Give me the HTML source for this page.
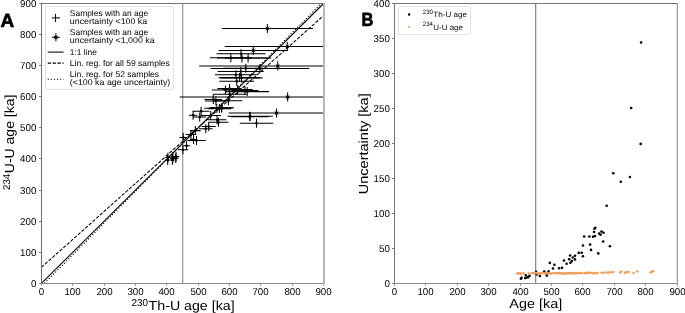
<!DOCTYPE html><html><head><meta charset="utf-8"><style>html,body{margin:0;padding:0;background:#fff;}svg{display:block;font-family:"Liberation Sans", sans-serif;will-change:transform;text-rendering:geometricPrecision;}</style></head><body>
<svg width="685" height="313" viewBox="0 0 685 313">
<rect width="685" height="313" fill="#fff"/>
<defs><clipPath id="cA"><rect x="41.4" y="3.48" width="282.27000000000004" height="279.91999999999996"/></clipPath><clipPath id="cB"><rect x="394.4" y="3.48" width="282.80000000000007" height="279.91999999999996"/></clipPath></defs>
<line x1="182.75" y1="3.48" x2="182.75" y2="283.4" stroke="#808080" stroke-width="1.0"/>
<g clip-path="url(#cA)" stroke="#000" stroke-width="1.05" fill="none">
<path d="M179.67 97.00H395.60M287.64 92.50V101.50"/>
<path d="M199.15 66.00H356.37M277.76 61.50V70.50"/>
<path d="M224.72 46.50H349.76M287.24 42.00V51.00"/>
<path d="M210.50 68.50H309.28M259.89 64.00V73.00"/>
<path d="M228.77 113.00H324.14M276.46 108.50V117.50"/>
<path d="M221.80 28.50H312.96M267.38 24.00V33.00"/>
<path d="M218.52 50.50H288.08M253.30 46.00V55.00"/>
<path d="M216.55 53.80H265.50M241.03 49.30V58.30"/>
<path d="M217.00 57.90H266.84M241.92 53.40V62.40"/>
<path d="M217.69 71.50H263.76M240.73 67.00V76.00"/>
<path d="M209.82 57.70H251.86M230.84 53.20V62.20"/>
<path d="M214.92 74.70H256.95M235.93 70.20V79.20"/>
<path d="M218.74 77.60H260.51M239.63 73.10V82.10"/>
<path d="M220.28 77.90H262.77M241.52 73.40V82.40"/>
<path d="M223.50 68.30H268.14M245.82 63.80V72.80"/>
<path d="M225.43 91.60H268.99M247.21 87.10V96.10"/>
<path d="M224.90 57.90H271.33M248.11 53.40V62.40"/>
<path d="M227.43 116.30H272.79M250.11 111.80V120.80"/>
<path d="M230.93 116.60H268.49M249.71 112.10V121.10"/>
<path d="M239.82 123.20H273.17M256.50 118.70V127.70"/>
<path d="M212.66 94.20H246.63M229.65 89.70V98.70"/>
<path d="M219.34 81.20H254.12M236.73 76.70V85.70"/>
<path d="M222.62 89.50H252.65M237.63 85.00V94.00"/>
<path d="M231.47 90.60H258.36M244.92 86.10V95.10"/>
<path d="M211.79 90.00H239.12M225.45 85.50V94.50"/>
<path d="M214.59 100.80H242.11M228.35 96.30V105.30"/>
<path d="M217.40 88.60H241.69M229.55 84.10V93.10"/>
<path d="M204.27 108.30H229.27M216.77 103.80V112.80"/>
<path d="M209.29 107.80H234.03M221.66 103.30V112.30"/>
<path d="M207.86 108.60H231.07M219.47 104.10V113.10"/>
<path d="M205.03 100.90H226.72M215.87 96.40V105.40"/>
<path d="M210.91 108.00H232.42M221.66 103.50V112.50"/>
<path d="M208.47 122.30H228.46M218.47 117.80V126.80"/>
<path d="M207.79 119.80H226.35M217.07 115.30V124.30"/>
<path d="M200.42 115.50H220.95M210.68 111.00V120.00"/>
<path d="M204.45 99.50H222.11M213.28 95.00V104.00"/>
<path d="M187.32 140.50H205.70M196.51 136.00V145.00"/>
<path d="M192.76 111.20H209.44M201.10 106.70V115.70"/>
<path d="M193.02 117.00H206.38M199.70 112.50V121.50"/>
<path d="M198.98 128.70H212.60M205.79 124.20V133.20"/>
<path d="M201.65 126.50H215.72M208.69 122.00V131.00"/>
<path d="M189.93 130.60H200.69M195.31 126.10V135.10"/>
<path d="M188.81 115.30H197.42M193.12 110.80V119.80"/>
<path d="M177.78 149.80H188.09M182.93 145.30V154.30"/>
<path d="M179.24 137.50H187.22M183.23 133.00V142.00"/>
<path d="M183.17 145.70H189.89M186.53 141.20V150.20"/>
<path d="M185.63 134.50H196.21M190.92 130.00V139.00"/>
<path d="M190.02 139.50H197.01M193.51 135.00V144.00"/>
<path d="M165.59 160.10H169.81M167.70 155.30V164.90"/>
<path d="M165.39 157.50H170.41M167.90 152.70V162.30"/>
<path d="M170.02 160.00H174.78M172.40 155.20V164.80"/>
<path d="M168.92 157.00H176.28M172.60 152.20V161.80"/>
<path d="M170.11 158.50H175.49M172.80 153.70V163.30"/>
<path d="M172.98 158.30H178.62M175.80 153.50V163.10"/>
<path d="M172.59 156.60H179.41M176.00 151.80V161.40"/>
</g>
<g clip-path="url(#cA)">
<path d="M285.54 94.90L289.74 99.10M285.54 99.10L289.74 94.90" stroke="#000" stroke-width="0.6" opacity="0.75"/>
<circle cx="287.64" cy="97.00" r="1.6" fill="#000"/>
<path d="M275.66 63.90L279.86 68.10M275.66 68.10L279.86 63.90" stroke="#000" stroke-width="0.6" opacity="0.75"/>
<circle cx="277.76" cy="66.00" r="1.6" fill="#000"/>
<path d="M285.14 44.40L289.34 48.60M285.14 48.60L289.34 44.40" stroke="#000" stroke-width="0.6" opacity="0.75"/>
<circle cx="287.24" cy="46.50" r="1.6" fill="#000"/>
<path d="M257.79 66.40L261.99 70.60M257.79 70.60L261.99 66.40" stroke="#000" stroke-width="0.6" opacity="0.75"/>
<circle cx="259.89" cy="68.50" r="1.6" fill="#000"/>
<path d="M274.36 110.90L278.56 115.10M274.36 115.10L278.56 110.90" stroke="#000" stroke-width="0.6" opacity="0.75"/>
<circle cx="276.46" cy="113.00" r="1.6" fill="#000"/>
<path d="M265.28 26.40L269.48 30.60M265.28 30.60L269.48 26.40" stroke="#000" stroke-width="0.6" opacity="0.75"/>
<circle cx="267.38" cy="28.50" r="1.6" fill="#000"/>
<path d="M251.20 48.40L255.40 52.60M251.20 52.60L255.40 48.40" stroke="#000" stroke-width="0.6" opacity="0.75"/>
<circle cx="253.30" cy="50.50" r="1.6" fill="#000"/>
<circle cx="241.03" cy="53.80" r="1.3" fill="#000"/>
<circle cx="241.92" cy="57.90" r="1.3" fill="#000"/>
<circle cx="240.73" cy="71.50" r="1.3" fill="#000"/>
<circle cx="230.84" cy="57.70" r="1.3" fill="#000"/>
<circle cx="235.93" cy="74.70" r="1.3" fill="#000"/>
<circle cx="239.63" cy="77.60" r="1.3" fill="#000"/>
<circle cx="241.52" cy="77.90" r="1.3" fill="#000"/>
<circle cx="245.82" cy="68.30" r="1.3" fill="#000"/>
<circle cx="247.21" cy="91.60" r="1.3" fill="#000"/>
<circle cx="248.11" cy="57.90" r="1.3" fill="#000"/>
<circle cx="250.11" cy="116.30" r="1.3" fill="#000"/>
<circle cx="249.71" cy="116.60" r="1.3" fill="#000"/>
<circle cx="256.50" cy="123.20" r="1.3" fill="#000"/>
<circle cx="229.65" cy="94.20" r="1.3" fill="#000"/>
<circle cx="236.73" cy="81.20" r="1.3" fill="#000"/>
<circle cx="237.63" cy="89.50" r="1.3" fill="#000"/>
<circle cx="244.92" cy="90.60" r="1.3" fill="#000"/>
<circle cx="225.45" cy="90.00" r="1.3" fill="#000"/>
<circle cx="228.35" cy="100.80" r="1.3" fill="#000"/>
<circle cx="229.55" cy="88.60" r="1.3" fill="#000"/>
<circle cx="216.77" cy="108.30" r="1.3" fill="#000"/>
<circle cx="221.66" cy="107.80" r="1.3" fill="#000"/>
<circle cx="219.47" cy="108.60" r="1.3" fill="#000"/>
<circle cx="215.87" cy="100.90" r="1.3" fill="#000"/>
<circle cx="221.66" cy="108.00" r="1.3" fill="#000"/>
<circle cx="218.47" cy="122.30" r="1.3" fill="#000"/>
<circle cx="217.07" cy="119.80" r="1.3" fill="#000"/>
<circle cx="210.68" cy="115.50" r="1.3" fill="#000"/>
<circle cx="213.28" cy="99.50" r="1.3" fill="#000"/>
<circle cx="196.51" cy="140.50" r="1.3" fill="#000"/>
<circle cx="201.10" cy="111.20" r="1.3" fill="#000"/>
<circle cx="199.70" cy="117.00" r="1.3" fill="#000"/>
<circle cx="205.79" cy="128.70" r="1.3" fill="#000"/>
<circle cx="208.69" cy="126.50" r="1.3" fill="#000"/>
<circle cx="195.31" cy="130.60" r="1.3" fill="#000"/>
<circle cx="193.12" cy="115.30" r="1.3" fill="#000"/>
<circle cx="182.93" cy="149.80" r="1.3" fill="#000"/>
<circle cx="183.23" cy="137.50" r="1.3" fill="#000"/>
<circle cx="186.53" cy="145.70" r="1.3" fill="#000"/>
<circle cx="190.92" cy="134.50" r="1.3" fill="#000"/>
<circle cx="193.51" cy="139.50" r="1.3" fill="#000"/>
<circle cx="167.70" cy="160.10" r="1.3" fill="#000"/>
<circle cx="167.90" cy="157.50" r="1.3" fill="#000"/>
<circle cx="172.40" cy="160.00" r="1.3" fill="#000"/>
<circle cx="172.60" cy="157.00" r="1.3" fill="#000"/>
<circle cx="172.80" cy="158.50" r="1.3" fill="#000"/>
<circle cx="175.80" cy="158.30" r="1.3" fill="#000"/>
<circle cx="176.00" cy="156.60" r="1.3" fill="#000"/>
</g>
<g clip-path="url(#cA)" fill="none" stroke="#000" stroke-width="1.05">
<line x1="41.4" y1="283.4" x2="323.67" y2="3.48"/>
<line x1="41.4" y1="267.4" x2="323.67" y2="15.5" stroke-dasharray="3.3 1.6"/>
<line x1="44.4" y1="283.4" x2="321.2" y2="3.48" stroke-dasharray="1.2 1.9"/>
</g>
<g shape-rendering="crispEdges"><rect x="41" y="3" width="1" height="281" fill="#6e6e6e"/><rect x="41" y="3" width="283" height="1" fill="#747474"/><rect x="41" y="283" width="284" height="1" fill="#8a8a8a"/><rect x="323" y="3" width="2" height="281" fill="#b8b8b8"/></g>
<g shape-rendering="crispEdges"><rect x="41" y="284" width="1" height="2" fill="#9a9a9a"/><rect x="39" y="283" width="2" height="1" fill="#7a7a7a"/><rect x="72" y="284" width="1" height="2" fill="#9a9a9a"/><rect x="39" y="252" width="2" height="1" fill="#7a7a7a"/><rect x="104" y="284" width="1" height="2" fill="#9a9a9a"/><rect x="39" y="221" width="2" height="1" fill="#7a7a7a"/><rect x="135" y="284" width="1" height="2" fill="#9a9a9a"/><rect x="39" y="190" width="2" height="1" fill="#7a7a7a"/><rect x="166" y="284" width="1" height="2" fill="#9a9a9a"/><rect x="39" y="158" width="2" height="1" fill="#7a7a7a"/><rect x="198" y="284" width="1" height="2" fill="#9a9a9a"/><rect x="39" y="127" width="2" height="1" fill="#7a7a7a"/><rect x="229" y="284" width="1" height="2" fill="#9a9a9a"/><rect x="39" y="96" width="2" height="1" fill="#7a7a7a"/><rect x="260" y="284" width="1" height="2" fill="#9a9a9a"/><rect x="39" y="65" width="2" height="1" fill="#7a7a7a"/><rect x="292" y="284" width="1" height="2" fill="#9a9a9a"/><rect x="39" y="34" width="2" height="1" fill="#7a7a7a"/><rect x="323" y="284" width="1" height="2" fill="#9a9a9a"/><rect x="39" y="3" width="2" height="1" fill="#7a7a7a"/></g>
<text x="38.80" y="295.00" font-size="10.0" font-weight="normal" fill="#000" text-anchor="start" textLength="5.41" lengthAdjust="spacingAndGlyphs">0</text>
<text x="30.89" y="287.00" font-size="10.0" font-weight="normal" fill="#000" text-anchor="start" textLength="5.41" lengthAdjust="spacingAndGlyphs">0</text>
<text x="64.39" y="295.00" font-size="10.0" font-weight="normal" fill="#000" text-anchor="start" textLength="16.22" lengthAdjust="spacingAndGlyphs">100</text>
<text x="20.08" y="256.00" font-size="10.0" font-weight="normal" fill="#000" text-anchor="start" textLength="16.22" lengthAdjust="spacingAndGlyphs">100</text>
<text x="96.39" y="295.00" font-size="10.0" font-weight="normal" fill="#000" text-anchor="start" textLength="16.22" lengthAdjust="spacingAndGlyphs">200</text>
<text x="20.08" y="225.00" font-size="10.0" font-weight="normal" fill="#000" text-anchor="start" textLength="16.22" lengthAdjust="spacingAndGlyphs">200</text>
<text x="127.39" y="295.00" font-size="10.0" font-weight="normal" fill="#000" text-anchor="start" textLength="16.22" lengthAdjust="spacingAndGlyphs">300</text>
<text x="20.08" y="194.00" font-size="10.0" font-weight="normal" fill="#000" text-anchor="start" textLength="16.22" lengthAdjust="spacingAndGlyphs">300</text>
<text x="158.39" y="295.00" font-size="10.0" font-weight="normal" fill="#000" text-anchor="start" textLength="16.22" lengthAdjust="spacingAndGlyphs">400</text>
<text x="20.08" y="162.00" font-size="10.0" font-weight="normal" fill="#000" text-anchor="start" textLength="16.22" lengthAdjust="spacingAndGlyphs">400</text>
<text x="190.39" y="295.00" font-size="10.0" font-weight="normal" fill="#000" text-anchor="start" textLength="16.22" lengthAdjust="spacingAndGlyphs">500</text>
<text x="20.08" y="131.00" font-size="10.0" font-weight="normal" fill="#000" text-anchor="start" textLength="16.22" lengthAdjust="spacingAndGlyphs">500</text>
<text x="221.39" y="295.00" font-size="10.0" font-weight="normal" fill="#000" text-anchor="start" textLength="16.22" lengthAdjust="spacingAndGlyphs">600</text>
<text x="20.08" y="100.00" font-size="10.0" font-weight="normal" fill="#000" text-anchor="start" textLength="16.22" lengthAdjust="spacingAndGlyphs">600</text>
<text x="252.39" y="295.00" font-size="10.0" font-weight="normal" fill="#000" text-anchor="start" textLength="16.22" lengthAdjust="spacingAndGlyphs">700</text>
<text x="20.08" y="69.00" font-size="10.0" font-weight="normal" fill="#000" text-anchor="start" textLength="16.22" lengthAdjust="spacingAndGlyphs">700</text>
<text x="284.39" y="295.00" font-size="10.0" font-weight="normal" fill="#000" text-anchor="start" textLength="16.22" lengthAdjust="spacingAndGlyphs">800</text>
<text x="20.08" y="38.00" font-size="10.0" font-weight="normal" fill="#000" text-anchor="start" textLength="16.22" lengthAdjust="spacingAndGlyphs">800</text>
<text x="315.39" y="295.00" font-size="10.0" font-weight="normal" fill="#000" text-anchor="start" textLength="16.22" lengthAdjust="spacingAndGlyphs">900</text>
<text x="20.08" y="7.00" font-size="10.0" font-weight="normal" fill="#000" text-anchor="start" textLength="16.22" lengthAdjust="spacingAndGlyphs">900</text>
<text x="131.60" y="305.90" font-size="9.9" font-weight="normal" fill="#000" text-anchor="start" textLength="16.50" lengthAdjust="spacingAndGlyphs">230</text>
<text x="148.60" y="310.10" font-size="13.2" font-weight="normal" fill="#000" text-anchor="start" textLength="86.00" lengthAdjust="spacingAndGlyphs">Th-U age [ka]</text>
<g transform="translate(14.3 190.0) rotate(-90)"><text x="0.00" y="-4.40" font-size="9.9" font-weight="normal" fill="#000" text-anchor="start" textLength="16.30" lengthAdjust="spacingAndGlyphs">234</text><text x="16.80" y="0.00" font-size="13.2" font-weight="normal" fill="#000" text-anchor="start" textLength="78.60" lengthAdjust="spacingAndGlyphs">U-U age [ka]</text></g>
<text x="0.40" y="26.60" font-size="19.0" font-weight="bold" fill="#000" text-anchor="start" textLength="13.70" lengthAdjust="spacingAndGlyphs" stroke="#000" stroke-width="0.7">A</text>
<rect x="45.5" y="6.5" width="128" height="83" rx="1.5" ry="1.5" fill="#fff" stroke="#e2e2e2" stroke-width="1"/>
<text x="69.80" y="16.00" font-size="8.4" font-weight="normal" fill="#000" text-anchor="start" textLength="78.40" lengthAdjust="spacingAndGlyphs">Samples with an age</text>
<text x="69.80" y="23.90" font-size="8.4" font-weight="normal" fill="#000" text-anchor="start" textLength="77.40" lengthAdjust="spacingAndGlyphs">uncertainty &lt;100 ka</text>
<text x="69.80" y="35.10" font-size="8.4" font-weight="normal" fill="#000" text-anchor="start" textLength="78.40" lengthAdjust="spacingAndGlyphs">Samples with an age</text>
<text x="69.80" y="43.00" font-size="8.4" font-weight="normal" fill="#000" text-anchor="start" textLength="84.90" lengthAdjust="spacingAndGlyphs">uncertainty &lt;1,000 ka</text>
<text x="69.80" y="55.00" font-size="8.4" font-weight="normal" fill="#000" text-anchor="start" textLength="27.10" lengthAdjust="spacingAndGlyphs">1:1 line</text>
<text x="69.80" y="65.80" font-size="8.4" font-weight="normal" fill="#000" text-anchor="start" textLength="100.10" lengthAdjust="spacingAndGlyphs">Lin. reg. for all 59 samples</text>
<text x="69.80" y="77.10" font-size="8.4" font-weight="normal" fill="#000" text-anchor="start" textLength="89.30" lengthAdjust="spacingAndGlyphs">Lin. reg. for 52 samples</text>
<text x="69.80" y="84.90" font-size="8.4" font-weight="normal" fill="#000" text-anchor="start" textLength="100.50" lengthAdjust="spacingAndGlyphs">(&lt;100 ka age uncertainty)</text>
<path d="M51.7 17.9H60.0M55.55 13.9V22.0" stroke="#000" stroke-width="1.0"/><circle cx="55.6" cy="17.8" r="0.8"/>
<path d="M51.9 37.3H59.9M55.9 33.3V41.3" stroke="#000" stroke-width="1.05"/>
<path d="M53.8 35.2L58.0 39.4M53.8 39.4L58.0 35.2" stroke="#000" stroke-width="0.6" opacity="0.75"/><circle cx="55.9" cy="37.3" r="1.6"/>
<path d="M47.7 52.1H63.6" stroke="#000" stroke-width="1.05"/>
<path d="M47.7 63.1H63.6" stroke="#000" stroke-width="1.05" stroke-dasharray="3.3 1.6"/>
<path d="M47.7 79.3H63.6" stroke="#000" stroke-width="1.05" stroke-dasharray="1.2 1.9"/>
<line x1="535.7" y1="3.48" x2="535.7" y2="283.4" stroke="#7a7a7a" stroke-width="1.1"/>
<g clip-path="url(#cB)">
<circle cx="641.10" cy="42.50" r="1.3" fill="#000"/>
<circle cx="631.20" cy="108.00" r="1.3" fill="#000"/>
<circle cx="640.70" cy="143.90" r="1.3" fill="#000"/>
<circle cx="613.30" cy="173.20" r="1.3" fill="#000"/>
<circle cx="629.90" cy="177.00" r="1.3" fill="#000"/>
<circle cx="620.80" cy="181.70" r="1.3" fill="#000"/>
<circle cx="606.70" cy="205.80" r="1.3" fill="#000"/>
<circle cx="594.40" cy="228.80" r="1.3" fill="#000"/>
<circle cx="595.30" cy="227.80" r="1.3" fill="#000"/>
<circle cx="594.10" cy="232.00" r="1.3" fill="#000"/>
<circle cx="584.20" cy="236.50" r="1.3" fill="#000"/>
<circle cx="589.30" cy="236.50" r="1.3" fill="#000"/>
<circle cx="593.00" cy="236.80" r="1.3" fill="#000"/>
<circle cx="594.90" cy="236.00" r="1.3" fill="#000"/>
<circle cx="599.20" cy="233.60" r="1.3" fill="#000"/>
<circle cx="600.60" cy="234.80" r="1.3" fill="#000"/>
<circle cx="601.50" cy="231.60" r="1.3" fill="#000"/>
<circle cx="603.50" cy="232.80" r="1.3" fill="#000"/>
<circle cx="603.10" cy="241.50" r="1.3" fill="#000"/>
<circle cx="609.90" cy="246.20" r="1.3" fill="#000"/>
<circle cx="583.00" cy="245.50" r="1.3" fill="#000"/>
<circle cx="590.10" cy="244.60" r="1.3" fill="#000"/>
<circle cx="591.00" cy="249.90" r="1.3" fill="#000"/>
<circle cx="598.30" cy="253.40" r="1.3" fill="#000"/>
<circle cx="578.80" cy="252.90" r="1.3" fill="#000"/>
<circle cx="581.70" cy="252.70" r="1.3" fill="#000"/>
<circle cx="582.90" cy="256.30" r="1.3" fill="#000"/>
<circle cx="570.10" cy="255.50" r="1.3" fill="#000"/>
<circle cx="575.00" cy="255.80" r="1.3" fill="#000"/>
<circle cx="572.80" cy="257.50" r="1.3" fill="#000"/>
<circle cx="569.20" cy="259.20" r="1.3" fill="#000"/>
<circle cx="575.00" cy="259.40" r="1.3" fill="#000"/>
<circle cx="571.80" cy="261.10" r="1.3" fill="#000"/>
<circle cx="570.40" cy="262.70" r="1.3" fill="#000"/>
<circle cx="564.00" cy="260.50" r="1.3" fill="#000"/>
<circle cx="566.60" cy="263.70" r="1.3" fill="#000"/>
<circle cx="549.80" cy="262.90" r="1.3" fill="#000"/>
<circle cx="554.40" cy="264.80" r="1.3" fill="#000"/>
<circle cx="553.00" cy="268.50" r="1.3" fill="#000"/>
<circle cx="559.10" cy="268.20" r="1.3" fill="#000"/>
<circle cx="562.00" cy="267.70" r="1.3" fill="#000"/>
<circle cx="548.60" cy="271.40" r="1.3" fill="#000"/>
<circle cx="546.40" cy="273.80" r="1.3" fill="#000"/>
<circle cx="536.20" cy="271.90" r="1.3" fill="#000"/>
<circle cx="536.50" cy="274.50" r="1.3" fill="#000"/>
<circle cx="539.80" cy="275.90" r="1.3" fill="#000"/>
<circle cx="544.20" cy="271.60" r="1.3" fill="#000"/>
<circle cx="546.80" cy="275.60" r="1.3" fill="#000"/>
<circle cx="520.90" cy="278.70" r="1.3" fill="#000"/>
<circle cx="521.60" cy="277.80" r="1.3" fill="#000"/>
<circle cx="525.20" cy="278.10" r="1.3" fill="#000"/>
<circle cx="525.80" cy="275.20" r="1.3" fill="#000"/>
<circle cx="527.10" cy="277.40" r="1.3" fill="#000"/>
<circle cx="528.40" cy="277.10" r="1.3" fill="#000"/>
<circle cx="529.60" cy="275.80" r="1.3" fill="#000"/>
<circle cx="517.04" cy="273.43" r="1.25" fill="#ef9d5a"/>
<circle cx="518.52" cy="273.47" r="1.25" fill="#ef9d5a"/>
<circle cx="520.08" cy="273.10" r="1.25" fill="#ef9d5a"/>
<circle cx="521.11" cy="273.64" r="1.25" fill="#ef9d5a"/>
<circle cx="523.50" cy="273.30" r="1.25" fill="#ef9d5a"/>
<circle cx="528.90" cy="273.40" r="1.25" fill="#ef9d5a"/>
<circle cx="531.66" cy="273.11" r="1.25" fill="#ef9d5a"/>
<circle cx="533.60" cy="273.28" r="1.25" fill="#ef9d5a"/>
<circle cx="535.00" cy="273.28" r="1.25" fill="#ef9d5a"/>
<circle cx="536.38" cy="273.06" r="1.25" fill="#ef9d5a"/>
<circle cx="537.88" cy="273.56" r="1.25" fill="#ef9d5a"/>
<circle cx="539.31" cy="273.47" r="1.25" fill="#ef9d5a"/>
<circle cx="540.90" cy="272.99" r="1.25" fill="#ef9d5a"/>
<circle cx="542.45" cy="273.36" r="1.25" fill="#ef9d5a"/>
<circle cx="543.68" cy="272.97" r="1.25" fill="#ef9d5a"/>
<circle cx="545.52" cy="273.28" r="1.25" fill="#ef9d5a"/>
<circle cx="546.93" cy="273.57" r="1.25" fill="#ef9d5a"/>
<circle cx="548.43" cy="273.59" r="1.25" fill="#ef9d5a"/>
<circle cx="549.74" cy="273.51" r="1.25" fill="#ef9d5a"/>
<circle cx="551.27" cy="273.60" r="1.25" fill="#ef9d5a"/>
<circle cx="553.03" cy="273.02" r="1.25" fill="#ef9d5a"/>
<circle cx="555.38" cy="273.00" r="1.25" fill="#ef9d5a"/>
<circle cx="557.18" cy="273.16" r="1.25" fill="#ef9d5a"/>
<circle cx="558.28" cy="273.06" r="1.25" fill="#ef9d5a"/>
<circle cx="559.50" cy="273.12" r="1.25" fill="#ef9d5a"/>
<circle cx="560.71" cy="273.26" r="1.25" fill="#ef9d5a"/>
<circle cx="562.15" cy="273.48" r="1.25" fill="#ef9d5a"/>
<circle cx="563.51" cy="273.50" r="1.25" fill="#ef9d5a"/>
<circle cx="564.91" cy="273.54" r="1.25" fill="#ef9d5a"/>
<circle cx="566.10" cy="272.96" r="1.25" fill="#ef9d5a"/>
<circle cx="567.52" cy="273.53" r="1.25" fill="#ef9d5a"/>
<circle cx="568.84" cy="273.25" r="1.25" fill="#ef9d5a"/>
<circle cx="570.03" cy="273.00" r="1.25" fill="#ef9d5a"/>
<circle cx="571.40" cy="273.25" r="1.25" fill="#ef9d5a"/>
<circle cx="572.37" cy="272.89" r="1.25" fill="#ef9d5a"/>
<circle cx="574.01" cy="273.54" r="1.25" fill="#ef9d5a"/>
<circle cx="574.85" cy="273.41" r="1.25" fill="#ef9d5a"/>
<circle cx="576.35" cy="272.96" r="1.25" fill="#ef9d5a"/>
<circle cx="577.58" cy="273.39" r="1.25" fill="#ef9d5a"/>
<circle cx="579.22" cy="272.88" r="1.25" fill="#ef9d5a"/>
<circle cx="580.37" cy="272.88" r="1.25" fill="#ef9d5a"/>
<circle cx="581.73" cy="273.08" r="1.25" fill="#ef9d5a"/>
<circle cx="584.53" cy="273.34" r="1.25" fill="#ef9d5a"/>
<circle cx="585.60" cy="273.35" r="1.25" fill="#ef9d5a"/>
<circle cx="586.79" cy="272.70" r="1.25" fill="#ef9d5a"/>
<circle cx="588.26" cy="272.67" r="1.25" fill="#ef9d5a"/>
<circle cx="589.32" cy="272.94" r="1.25" fill="#ef9d5a"/>
<circle cx="590.87" cy="272.76" r="1.25" fill="#ef9d5a"/>
<circle cx="593.23" cy="273.26" r="1.25" fill="#ef9d5a"/>
<circle cx="594.79" cy="273.32" r="1.25" fill="#ef9d5a"/>
<circle cx="596.54" cy="272.91" r="1.25" fill="#ef9d5a"/>
<circle cx="597.68" cy="273.01" r="1.25" fill="#ef9d5a"/>
<circle cx="601.50" cy="272.80" r="1.25" fill="#ef9d5a"/>
<circle cx="603.50" cy="272.80" r="1.25" fill="#ef9d5a"/>
<circle cx="606.30" cy="272.60" r="1.25" fill="#ef9d5a"/>
<circle cx="608.50" cy="272.60" r="1.25" fill="#ef9d5a"/>
<circle cx="610.70" cy="272.30" r="1.25" fill="#ef9d5a"/>
<circle cx="613.30" cy="272.10" r="1.25" fill="#ef9d5a"/>
<circle cx="620.20" cy="272.70" r="1.25" fill="#ef9d5a"/>
<circle cx="621.30" cy="271.40" r="1.25" fill="#ef9d5a"/>
<circle cx="625.00" cy="272.70" r="1.25" fill="#ef9d5a"/>
<circle cx="626.40" cy="272.10" r="1.25" fill="#ef9d5a"/>
<circle cx="628.60" cy="272.10" r="1.25" fill="#ef9d5a"/>
<circle cx="633.50" cy="273.00" r="1.25" fill="#ef9d5a"/>
<circle cx="637.20" cy="271.60" r="1.25" fill="#ef9d5a"/>
<circle cx="650.50" cy="272.60" r="1.25" fill="#ef9d5a"/>
<circle cx="652.00" cy="271.70" r="1.25" fill="#ef9d5a"/>
<circle cx="653.20" cy="271.00" r="1.25" fill="#ef9d5a"/>
</g>
<g shape-rendering="crispEdges"><rect x="394" y="3" width="1" height="281" fill="#747474"/><rect x="394" y="3" width="284" height="1" fill="#747474"/><rect x="394" y="283" width="284" height="1" fill="#8a8a8a"/><rect x="677" y="3" width="1" height="281" fill="#9a9a9a"/><rect x="676" y="4" width="1" height="278" fill="#e4e4e4"/></g>
<g shape-rendering="crispEdges"><rect x="394" y="284" width="1" height="2" fill="#9a9a9a"/><rect x="425" y="284" width="1" height="2" fill="#9a9a9a"/><rect x="457" y="284" width="1" height="2" fill="#9a9a9a"/><rect x="488" y="284" width="1" height="2" fill="#9a9a9a"/><rect x="520" y="284" width="1" height="2" fill="#9a9a9a"/><rect x="551" y="284" width="1" height="2" fill="#9a9a9a"/><rect x="582" y="284" width="1" height="2" fill="#9a9a9a"/><rect x="614" y="284" width="1" height="2" fill="#9a9a9a"/><rect x="645" y="284" width="1" height="2" fill="#9a9a9a"/><rect x="677" y="284" width="1" height="2" fill="#9a9a9a"/><rect x="392" y="283" width="2" height="1" fill="#7a7a7a"/><rect x="392" y="248" width="2" height="1" fill="#7a7a7a"/><rect x="392" y="213" width="2" height="1" fill="#7a7a7a"/><rect x="392" y="178" width="2" height="1" fill="#7a7a7a"/><rect x="392" y="143" width="2" height="1" fill="#7a7a7a"/><rect x="392" y="108" width="2" height="1" fill="#7a7a7a"/><rect x="392" y="73" width="2" height="1" fill="#7a7a7a"/><rect x="392" y="38" width="2" height="1" fill="#7a7a7a"/><rect x="392" y="3" width="2" height="1" fill="#7a7a7a"/></g>
<text x="391.80" y="295.00" font-size="10.0" font-weight="normal" fill="#000" text-anchor="start" textLength="5.41" lengthAdjust="spacingAndGlyphs">0</text>
<text x="417.39" y="295.00" font-size="10.0" font-weight="normal" fill="#000" text-anchor="start" textLength="16.22" lengthAdjust="spacingAndGlyphs">100</text>
<text x="449.39" y="295.00" font-size="10.0" font-weight="normal" fill="#000" text-anchor="start" textLength="16.22" lengthAdjust="spacingAndGlyphs">200</text>
<text x="480.39" y="295.00" font-size="10.0" font-weight="normal" fill="#000" text-anchor="start" textLength="16.22" lengthAdjust="spacingAndGlyphs">300</text>
<text x="512.39" y="295.00" font-size="10.0" font-weight="normal" fill="#000" text-anchor="start" textLength="16.22" lengthAdjust="spacingAndGlyphs">400</text>
<text x="543.39" y="295.00" font-size="10.0" font-weight="normal" fill="#000" text-anchor="start" textLength="16.22" lengthAdjust="spacingAndGlyphs">500</text>
<text x="574.39" y="295.00" font-size="10.0" font-weight="normal" fill="#000" text-anchor="start" textLength="16.22" lengthAdjust="spacingAndGlyphs">600</text>
<text x="606.39" y="295.00" font-size="10.0" font-weight="normal" fill="#000" text-anchor="start" textLength="16.22" lengthAdjust="spacingAndGlyphs">700</text>
<text x="637.39" y="295.00" font-size="10.0" font-weight="normal" fill="#000" text-anchor="start" textLength="16.22" lengthAdjust="spacingAndGlyphs">800</text>
<text x="669.39" y="295.00" font-size="10.0" font-weight="normal" fill="#000" text-anchor="start" textLength="16.22" lengthAdjust="spacingAndGlyphs">900</text>
<text x="384.39" y="287.00" font-size="10.0" font-weight="normal" fill="#000" text-anchor="start" textLength="5.41" lengthAdjust="spacingAndGlyphs">0</text>
<text x="378.99" y="252.00" font-size="10.0" font-weight="normal" fill="#000" text-anchor="start" textLength="10.81" lengthAdjust="spacingAndGlyphs">50</text>
<text x="373.58" y="217.00" font-size="10.0" font-weight="normal" fill="#000" text-anchor="start" textLength="16.22" lengthAdjust="spacingAndGlyphs">100</text>
<text x="373.58" y="182.00" font-size="10.0" font-weight="normal" fill="#000" text-anchor="start" textLength="16.22" lengthAdjust="spacingAndGlyphs">150</text>
<text x="373.58" y="147.00" font-size="10.0" font-weight="normal" fill="#000" text-anchor="start" textLength="16.22" lengthAdjust="spacingAndGlyphs">200</text>
<text x="373.58" y="112.00" font-size="10.0" font-weight="normal" fill="#000" text-anchor="start" textLength="16.22" lengthAdjust="spacingAndGlyphs">250</text>
<text x="373.58" y="77.00" font-size="10.0" font-weight="normal" fill="#000" text-anchor="start" textLength="16.22" lengthAdjust="spacingAndGlyphs">300</text>
<text x="373.58" y="42.00" font-size="10.0" font-weight="normal" fill="#000" text-anchor="start" textLength="16.22" lengthAdjust="spacingAndGlyphs">350</text>
<text x="373.58" y="7.00" font-size="10.0" font-weight="normal" fill="#000" text-anchor="start" textLength="16.22" lengthAdjust="spacingAndGlyphs">400</text>
<text x="509.30" y="307.80" font-size="13.2" font-weight="normal" fill="#000" text-anchor="start" textLength="52.90" lengthAdjust="spacingAndGlyphs">Age [ka]</text>
<g transform="translate(367.6 194.3) rotate(-90)"><text x="0.00" y="0.00" font-size="13.2" font-weight="normal" fill="#000" text-anchor="start" textLength="101.00" lengthAdjust="spacingAndGlyphs">Uncertainty [ka]</text></g>
<text x="361.60" y="26.20" font-size="19.0" font-weight="bold" fill="#000" text-anchor="start" textLength="11.90" lengthAdjust="spacingAndGlyphs" stroke="#000" stroke-width="0.7">B</text>
<rect x="398.5" y="6.5" width="72" height="28" rx="1.5" ry="1.5" fill="#fff" stroke="#e2e2e2" stroke-width="1"/>
<circle cx="409.1" cy="14.5" r="1.2" fill="#000"/>
<circle cx="409.1" cy="27.0" r="0.95" fill="#ec9550"/>
<text x="422.80" y="13.90" font-size="6.3" font-weight="normal" fill="#000" text-anchor="start" textLength="10.10" lengthAdjust="spacingAndGlyphs">230</text>
<text x="433.30" y="17.00" font-size="7.7" font-weight="normal" fill="#000" text-anchor="start" textLength="33.60" lengthAdjust="spacingAndGlyphs">Th-U age</text>
<text x="422.80" y="26.40" font-size="6.3" font-weight="normal" fill="#000" text-anchor="start" textLength="10.10" lengthAdjust="spacingAndGlyphs">234</text>
<text x="433.30" y="29.50" font-size="7.7" font-weight="normal" fill="#000" text-anchor="start" textLength="29.60" lengthAdjust="spacingAndGlyphs">U-U age</text>
</svg></body></html>
